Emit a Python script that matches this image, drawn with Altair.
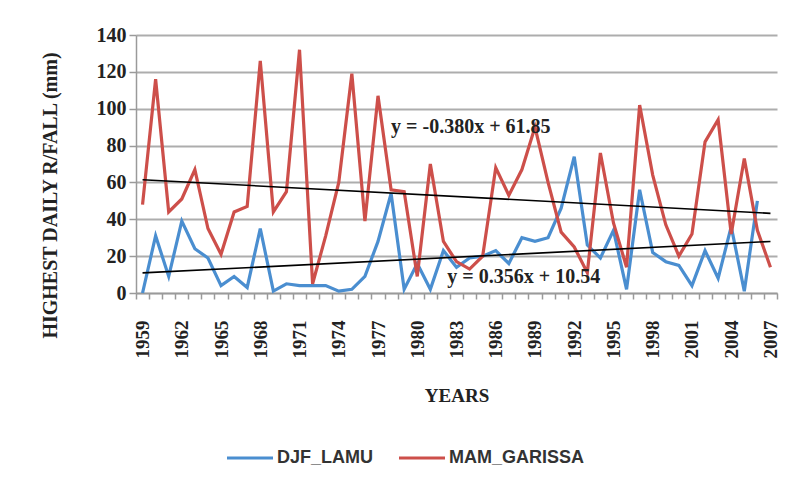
import altair as alt
import pandas as pd

years = list(range(1959, 2008))

djf_lamu = [0, 31, 9, 39, 24, 19, 4, 9, 3, 35,
            1, 5, 4, 4, 4, 1, 2, 9, 28, 54,
            2, 16, 2, 23, 14, 19, 20, 23, 16, 30,
            28, 30, 46, 74, 26, 19, 34, 2, 56, 22,
            17, 15, 4, 23, 8, 36, 1, 50, None]

mam_garissa = [48, 116, 44, 51, 67, 35, 21, 44, 47, 126,
               44, 55, 132, 5, 31, 60, 119, 39, 107, 56,
               55, 9, 70, 28, 17, 13, 20, 68, 53, 67,
               90, 60, 33, 25, 11, 76, 38, 14, 102, 64,
               37, 20, 32, 82, 94, 32, 73, 34, 14]

series_names = ["DJF_LAMU", "MAM_GARISSA"]
series_colors = ["#4A8ED0", "#CD4F4A"]

# trend equations shown on the chart (x = 1..49)
trend_slopes = [0.356, -0.380]
trend_intercepts = [10.54, 61.85]
trend_labels = ["y = 0.356x + 10.54", "y = -0.380x + 61.85"]

x_label_years = list(range(1959, 2008, 3))
x_tick_bounds = [y - 0.5 for y in range(1959, 2009)]
y_ticks = list(range(0, 141, 20))

rows = []
for i, yr in enumerate(years):
    rows.append({"year": yr, "value": djf_lamu[i], "series": series_names[0]})
    rows.append({"year": yr, "value": mam_garissa[i], "series": series_names[1]})
df = pd.DataFrame(rows)

trend_rows = []
for s in range(2):
    for idx, yr in [(1, years[0]), (len(years), years[-1])]:
        trend_rows.append({"year": yr, "value": trend_slopes[s] * idx + trend_intercepts[s],
                           "series": series_names[s]})
trend_df = pd.DataFrame(trend_rows)

ann_df = pd.DataFrame({
    "year": [1982.3, 1978.0],
    "value": [8.5, 90.0],
    "label": trend_labels,
})

FONT = "Liberation Serif"
YTITLE = "HIGHEST DAILY R/FALL (mm)"
xscale = alt.Scale(domain=[1958.5, 2007.5], nice=False, zero=False)
yscale = alt.Scale(domain=[0, 140], nice=False)

yaxis = alt.Axis(values=y_ticks, grid=True, gridColor="#ADADAD", gridWidth=2,
                 domainColor="#9A9A9A", domainWidth=1.5, tickColor="#9A9A9A",
                 tickSize=7, tickWidth=1.5, labelFont=FONT, labelFontSize=20,
                 labelFontWeight="bold", labelColor="#222222", labelPadding=3,
                 title=YTITLE, titleFont=FONT, titleFontSize=20, titleFontWeight="bold",
                 titleColor="#222222", titleX=-86, titleY=160, titleAngle=-90,
                 titleBaseline="middle", titleAlign="center")

lines = alt.Chart(df).mark_line(strokeWidth=3.2).encode(
    x=alt.X("year:Q", scale=xscale,
            axis=alt.Axis(orient="bottom", values=x_label_years, format="d",
                          ticks=False, domain=False, grid=False, labelAngle=-90,
                          labelFont=FONT, labelFontSize=19, labelFontWeight="bold",
                          labelColor="#222222", labelPadding=27, labelBaseline="middle",
                          title="YEARS", titleFont=FONT, titleFontSize=19,
                          titleFontWeight="bold", titleColor="#222222",
                          titleY=102, titleBaseline="middle")),
    y=alt.Y("value:Q", scale=yscale, axis=yaxis),
    color=alt.Color("series:N",
                    scale=alt.Scale(domain=series_names, range=series_colors),
                    legend=alt.Legend(orient="none", legendX=89, legendY=398,
                                      direction="horizontal", title=None,
                                      symbolType="stroke", symbolSize=2116,
                                      symbolStrokeWidth=3.2, labelFont="Liberation Sans",
                                      labelFontSize=18, labelFontWeight="bold",
                                      labelColor="#333333", labelOffset=2,
                                      columnPadding=18, padding=0)),
)

trend = alt.Chart(trend_df).mark_line(color="black", strokeWidth=1.6).encode(
    x=alt.X("year:Q", scale=xscale,
            axis=alt.Axis(orient="bottom", values=x_tick_bounds, labels=False,
                          ticks=True, tickSize=6, tickColor="#9A9A9A", tickWidth=1.5,
                          domain=True, domainColor="#9A9A9A", domainWidth=1.5,
                          grid=False, title=None)),
    y=alt.Y("value:Q", scale=yscale, axis=yaxis),
    detail="series:N",
)

ann = alt.Chart(ann_df).mark_text(font=FONT, fontSize=20, fontWeight="bold",
                                  color="#222222", align="left", baseline="middle").encode(
    x=alt.X("year:Q", scale=xscale, axis=None),
    y=alt.Y("value:Q", scale=yscale, axis=yaxis),
    text="label:N",
)

chart = alt.layer(lines, trend, ann).resolve_axis(x="independent").properties(
    width=641, height=258,
    autosize=alt.AutoSizeParams(type="none"),
    padding={"left": 128, "top": 27, "right": 10, "bottom": 182},
    background="white",
).configure_view(stroke=None)

chart.save("out.html", embed_options={"renderer": "svg", "actions": False})
